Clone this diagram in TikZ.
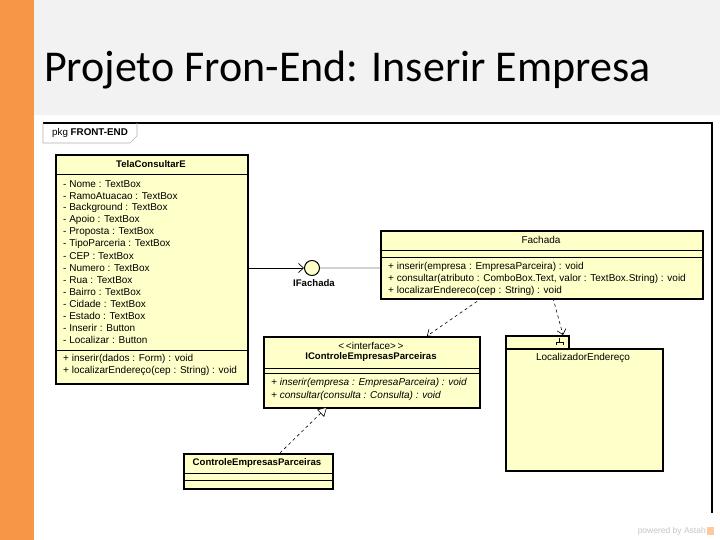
\documentclass[tikz,border=0pt]{standalone}
\usepackage{fontspec}
\setmainfont{Liberation Sans}
\newfontfamily\titlefont{Carlito}
\usetikzlibrary{arrows.meta}
\definecolor{slideorange}{HTML}{F79646}
\definecolor{titlegray}{HTML}{F2F2F2}
\definecolor{umlyellow}{HTML}{FFFFCA}
\tikzset{
  umlbox/.style={draw=black, line width=1.8pt, fill=umlyellow, anchor=north west, inner sep=0pt},
  sepline/.style={draw=black, line width=0.6pt},
  txt/.style={anchor=west, inner sep=0pt, font=\fontsize{10}{11}\selectfont},
  ctxt/.style={anchor=center, inner sep=0pt, font=\fontsize{10}{11}\selectfont},
  cname/.style={anchor=center, inner sep=0pt, font=\bfseries\fontsize{9.6}{11}\selectfont},
  depend/.style={draw=black, line width=0.6pt, dashed, -{Straight Barb[length=5pt,width=9pt]}},
  realize/.style={draw=black, line width=0.6pt, dashed, -{Triangle[open,length=9pt,width=10pt,fill=white]}},
}
\begin{document}
\begin{tikzpicture}[x=1pt,y=-1pt]
\useasboundingbox (0,0) rectangle (720,540);
\fill[white] (0,0) rectangle (720,540);
\fill[slideorange] (0,0) rectangle (34,540);
\fill[titlegray] (34,0) rectangle (720,115);
\node[anchor=base west, inner sep=0pt, font=\titlefont\fontsize{44}{52}\selectfont] (title) at (44,82) {Projeto Fron-End: Inserir Empresa};

% package frame
\draw[line width=1.2pt] (43,123) -- (712,123) -- (712,513);
\draw[gray!60, line width=0.6pt] (43,123) -- (43,143) -- (130,143) -- (137,136) -- (137,123);
\node[anchor=west, inner sep=0pt, font=\fontsize{9.8}{11}\selectfont] (pkg) at (52,133) {pkg \textbf{FRONT-END}};

% TelaConsultarE
\node[umlbox, minimum width=192, minimum height=229] (tela) at (55,154) {};
\node[cname] (telaname) at (151,164) {TelaConsultarE};
\draw[sepline] (55,174) -- (247,174);
\draw[sepline] (55,350) -- (247,350);
\foreach \t [count=\i from 0] in {- Nome : TextBox, - RamoAtuacao : TextBox, - Background : TextBox, - Apoio : TextBox, - Proposta : TextBox, - TipoParceria : TextBox, - CEP : TextBox, - Numero : TextBox, - Rua : TextBox, - Bairro : TextBox, - Cidade : TextBox, - Estado : TextBox, - Inserir : Button, - Localizar : Button}
  \node[txt] (telaattr\i) at (63,184+12*\i) {\t};
\node[txt] (telam1) at (63,359) {+ inserir(dados : Form) : void};
\node[txt] (telam2) at (63,371) {+ localizarEndereço(cep : String) : void};

% Fachada
\node[umlbox, minimum width=322, minimum height=68] (fach) at (380,230) {};
\node[ctxt] (fachname) at (541,240) {Fachada};
\draw[sepline] (380,250) -- (702,250);
\draw[sepline] (380,257) -- (702,257);
\node[txt] (fachm1) at (388,267) {+ inserir(empresa : EmpresaParceira) : void};
\node[txt] (fachm2) at (388,279) {+ consultar(atributo : ComboBox.Text, valor : TextBox.String) : void};
\node[txt] (fachm3) at (388,291) {+ localizarEndereco(cep : String) : void};

% lollipop IFachada
\node[circle, draw=black, line width=1pt, fill=umlyellow, minimum size=15, inner sep=0pt] (ifach) at (312,268) {};
\node[anchor=center, inner sep=0pt, font=\bfseries\fontsize{9.6}{11}\selectfont] (ifachlbl) at (314,283) {IFachada};
\coordinate (telaout) at (247,268);
\draw[line width=0.7pt, -{Straight Barb[length=5pt,width=9pt]}] (telaout) -- (ifach.west);
\coordinate (fachin) at (380,268);
\draw[gray!35, line width=1.8pt] (ifach.east) -- (fachin);

% IControleEmpresasParceiras
\node[umlbox, minimum width=216, minimum height=71] (icon) at (263,336) {};
\node[ctxt] (iconst) at (371,346) {{<}\,{<}interface{>}\,{>}};
\node[cname] (iconname) at (371,357) {IControleEmpresasParceiras};
\draw[sepline] (263,368) -- (479,368);
\draw[sepline] (263,373) -- (479,373);
\node[txt, font=\itshape\fontsize{10}{11}\selectfont] (iconm1) at (271,383) {+ inserir(empresa : EmpresaParceira) : void};
\node[txt, font=\itshape\fontsize{10}{11}\selectfont] (iconm2) at (271,396) {+ consultar(consulta : Consulta) : void};

% LocalizadorEndereço (subsystem package)
\node[umlbox, minimum width=63, minimum height=13] (loctab) at (505,335) {};
\node[umlbox, minimum width=157, minimum height=122] (loc) at (505,348) {};
\node[ctxt] (locname) at (583,358) {LocalizadorEndereço};
\draw[line width=0.7pt] (556,342) -- (563,342) (559.5,338) -- (559.5,342) (556,342) -- (556,345) (563,342) -- (563,345);

% ControleEmpresasParceiras
\node[umlbox, minimum width=149, minimum height=35] (ctrl) at (183,453) {};
\node[cname] (ctrlname) at (257,463) {ControleEmpresasParceiras};
\draw[sepline] (183,473) -- (332,473);
\draw[sepline] (183,480) -- (332,480);

% connectors
\coordinate (fachd1) at (482,298);
\coordinate (icontop) at (427,336);
\draw[depend] (fachd1) -- (icontop);
\coordinate (fachd2) at (553,298);
\coordinate (loctop) at (563,335);
\draw[depend] (fachd2) -- (loctop);
\coordinate (ctrltop) at (280,453);
\coordinate (iconbot) at (327,407);
\draw[realize] (ctrltop) -- (iconbot);

% watermark
\node[anchor=east, inner sep=0pt, text=gray!45, font=\fontsize{8.5}{10}\selectfont] (astah) at (706,531) {powered by Astah};
\fill[slideorange!50] (707,527) rectangle (714,535);
\end{tikzpicture}
\end{document}
